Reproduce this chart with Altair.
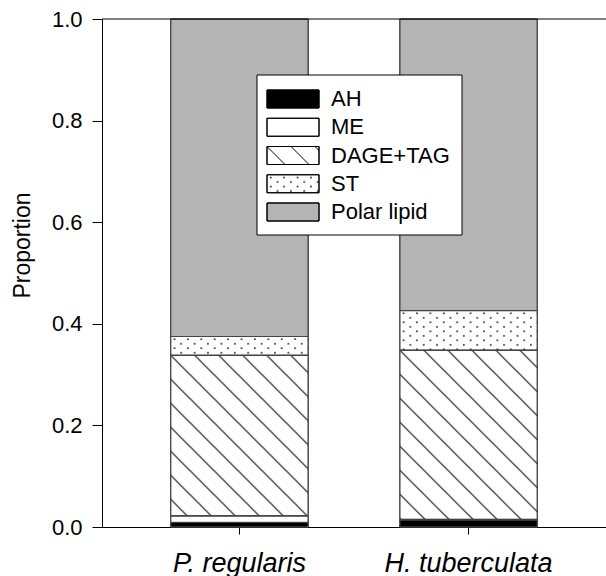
import altair as alt
import pandas as pd
from urllib.parse import quote

# ---- data ----
species = ["P. regularis", "H. tuberculata"]
components = ["AH", "ME", "DAGE+TAG", "ST", "Polar lipid"]
p_regularis = [0.009, 0.013, 0.316, 0.037, 0.625]
h_tuberculata = [0.014, 0.001, 0.333, 0.078, 0.574]
y_ticks = [0.0, 0.2, 0.4, 0.6, 0.8, 1.0]

# ---- styles ----
fills = ["#000000", "#ffffff", "#ffffff", "#ffffff", "#b4b4b4"]
FONT = "Liberation Sans"
EDGE = "#444444"

rows = []
for sp, vals in zip(species, [p_regularis, h_tuberculata]):
    for i, (c, v) in enumerate(zip(components, vals)):
        rows.append({"species": sp, "component": c, "value": v, "order": i})
df = pd.DataFrame(rows)
leg = pd.DataFrame({"component": components, "idx": list(range(len(components)))})


def svg_uri(svg):
    return "data:image/svg+xml;charset=utf-8," + quote(svg)


hatch = svg_uri(
    "<svg xmlns='http://www.w3.org/2000/svg' width='100%' height='100%'>"
    "<defs><pattern id='p' width='24' height='24' patternUnits='userSpaceOnUse'>"
    "<path d='M-2,-2L26,26M-2,22L2,26M22,-2L26,2' stroke='#000' stroke-width='1' fill='none'/>"
    "</pattern></defs><rect width='100%' height='100%' fill='url(#p)'/></svg>"
)
dots = svg_uri(
    "<svg xmlns='http://www.w3.org/2000/svg' width='100%' height='100%'>"
    "<defs><pattern id='d' width='13.4' height='9' patternUnits='userSpaceOnUse'>"
    "<rect x='3' y='2' width='1.5' height='1.5' fill='#000'/>"
    "<rect x='9.7' y='6.5' width='1.5' height='1.5' fill='#000'/>"
    "</pattern></defs><rect width='100%' height='100%' fill='url(#d)'/></svg>"
)

fill_scale = alt.Scale(domain=components, range=fills)

xenc = alt.X(
    "species:N",
    sort=species,
    scale=alt.Scale(paddingInner=0.4, paddingOuter=0.3),
    axis=alt.Axis(
        title=None, labelFontSize=27, labelFontStyle="italic", labelAngle=0,
        tickSize=7, labelPadding=16, domainColor="black", tickColor="black",
        labelColor="black", labelFont=FONT,
    ),
)
yenc = alt.Y(
    "y0:Q",
    scale=alt.Scale(domain=[0, 1], nice=False),
    axis=alt.Axis(
        values=y_ticks, format=".1f", tickSize=10, labelFontSize=22, labelPadding=10,
        labelColor="black", labelFont=FONT, domainColor="black", tickColor="black",
        title="Proportion", titleFontSize=23, titleFontWeight="normal", titleFont=FONT,
        titleColor="black", titleX=-80, titleY=226, titleAngle=-90, titleAlign="center",
        titleBaseline="middle", grid=False,
    ),
)

base = alt.Chart(df).transform_stack(
    stack="value", groupby=["species"], as_=["y0", "y1"],
    sort=[alt.SortField("order", order="ascending")],
)

bars = base.mark_bar(stroke=EDGE, strokeWidth=1).encode(
    x=xenc, y=yenc, y2="y1:Q",
    fill=alt.Fill("component:N", scale=fill_scale, legend=None),
)
bar_hatch = base.transform_filter(alt.datum.component == "DAGE+TAG").mark_image(
    aspect=False, width={"band": 1}
).encode(x=xenc, y=yenc, y2="y1:Q", url=alt.value(hatch))
bar_dots = base.transform_filter(alt.datum.component == "ST").mark_image(
    aspect=False, width={"band": 1}
).encode(x=xenc, y=yenc, y2="y1:Q", url=alt.value(dots))
bar_edges = base.mark_bar(fillOpacity=0, stroke=EDGE, strokeWidth=1).encode(
    x=xenc, y=yenc, y2="y1:Q"
)

one = pd.DataFrame({"a": [0]})
top_rule = alt.Chart(one).mark_rule(color="black", strokeWidth=1).encode(
    y=alt.value(0), x=alt.value(0), x2=alt.value(504)
)

# ---- legend (drawn by hand so the hatch patterns can be shown) ----
legbase = alt.Chart(leg).transform_calculate(
    sy="71 + datum.idx * 28.25",
    sy2="89 + datum.idx * 28.25",
    ty="80 + datum.idx * 28.25",
)
ly = alt.Y("sy:Q", scale=None, axis=None)
box = alt.Chart(one).mark_rect(fill="white", stroke="black", strokeWidth=1).encode(
    x=alt.value(155), x2=alt.value(360), y=alt.value(56), y2=alt.value(216)
)
sw = legbase.mark_rect(stroke="black", strokeWidth=1).encode(
    x=alt.value(165), x2=alt.value(217), y=ly, y2="sy2:Q",
    fill=alt.Fill("component:N", scale=fill_scale, legend=None),
)
sw_hatch = legbase.transform_filter(alt.datum.component == "DAGE+TAG").mark_image(
    aspect=False
).encode(x=alt.value(165), x2=alt.value(217), y=ly, y2="sy2:Q", url=alt.value(hatch))
sw_dots = legbase.transform_filter(alt.datum.component == "ST").mark_image(
    aspect=False
).encode(x=alt.value(165), x2=alt.value(217), y=ly, y2="sy2:Q", url=alt.value(dots))
sw_edges = legbase.mark_rect(fillOpacity=0, stroke="black", strokeWidth=1).encode(
    x=alt.value(165), x2=alt.value(217), y=ly, y2="sy2:Q"
)
labels = legbase.mark_text(
    align="left", baseline="middle", fontSize=22, font=FONT, color="black"
).encode(x=alt.value(229), y=alt.Y("ty:Q", scale=None, axis=None), text="component:N")

chart = alt.layer(
    bars, bar_hatch, bar_dots, bar_edges, top_rule,
    box, sw, sw_hatch, sw_dots, sw_edges, labels,
).properties(
    width=504, height=508,
    autosize=alt.AutoSizeParams(type="none"),
    padding={"left": 102, "top": 19, "right": 0, "bottom": 49},
).configure_view(stroke=None)

chart.save("out.html", embed_options={"renderer": "svg", "actions": False})
